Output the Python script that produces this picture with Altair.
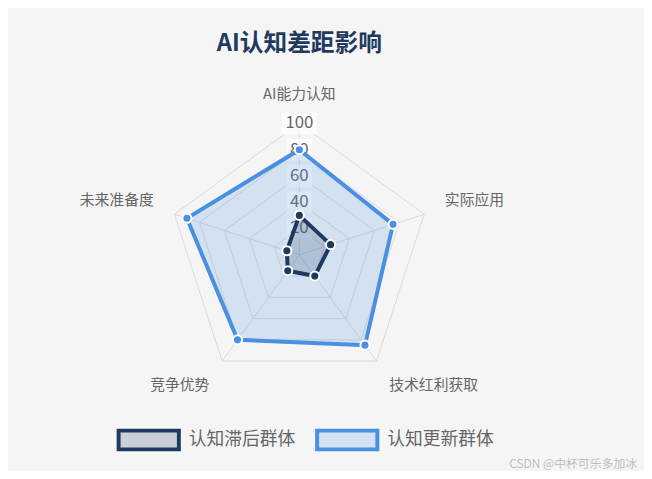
import altair as alt
import pandas as pd

# Radar data
categories = ["AI能力认知", "实际应用", "技术红利获取", "竞争优势", "未来准备度"]
series_names = ["认知滞后群体", "认知更新群体"]
lag_values = [30, 25, 20, 15, 10]
updated_values = [80, 75, 85, 80, 90]
tick_values = [20, 40, 60, 80, 100]
watermark = "CSDN @中杯可乐多加冰"

stroke_colors = ["#1e3a5f", "#4a90e2"]
fill_colors = ["rgba(30,58,95,0.2)", "rgba(74,144,226,0.2)"]

FONT = "Noto Sans CJK SC"
W, H = 590, 401
CX, CY = 295, 185   # radar centre inside the plot area, px
K = 1.33            # px per value unit
LABEL_R = 116.5     # radius of the category labels, value units
N = len(categories)

x_scale = alt.Scale(domain=[-CX / K, (W - CX) / K], nice=False, zero=False)
y_scale = alt.Scale(domain=[-(H - CY) / K, CY / K], nice=False, zero=False)


def X(f):
    return alt.X(f + ":Q", scale=x_scale, axis=None)


def Y(f):
    return alt.Y(f + ":Q", scale=y_scale, axis=None)


def polar(ch, r):
    return ch.transform_calculate(
        ang=f"datum.i * 2 * PI / {N}"
    ).transform_calculate(
        px=f"{r} * sin(datum.ang)", py=f"{r} * cos(datum.ang)", zero="0"
    )


# tables built from the arrays
rows = []
for s, vals in zip(series_names, [lag_values, updated_values]):
    for i in range(N + 1):
        rows.append({"series": s, "i": i, "cat": categories[i % N], "r": vals[i % N]})
series_df = pd.DataFrame(rows)
grid_df = pd.DataFrame([{"t": t, "i": i} for t in tick_values for i in range(N + 1)])
axis_df = pd.DataFrame({"i": list(range(N)), "cat": categories})
tick_df = pd.DataFrame({"t": tick_values})

grid_col = "#d9d9d9"
grid = polar(alt.Chart(grid_df), "datum.t").mark_line(color=grid_col, strokeWidth=1).encode(
    x=X("px"), y=Y("py"), detail="t:N", order="i:Q"
)
spokes = polar(alt.Chart(axis_df), "100").mark_rule(color=grid_col, strokeWidth=1).encode(
    x=X("zero"), y=Y("zero"), x2="px:Q", y2="py:Q"
)

backdrop = alt.Chart(tick_df).transform_calculate(
    hw=f"(length(toString(datum.t)) * 5 + 3) / {K}"
).transform_calculate(
    x1="-datum.hw", x2="datum.hw", y1=f"datum.t - 11 / {K}", y2=f"datum.t + 11 / {K}"
).mark_rect(color="white", opacity=0.75).encode(
    x=X("x1"), x2="x2:Q", y=Y("y1"), y2="y2:Q"
)
tick_text = alt.Chart(tick_df).transform_calculate(zero="0").mark_text(
    font=FONT, fontSize=17, color="#666666", baseline="middle", align="center"
).encode(x=X("zero"), y=Y("t"), text="t:Q")

legend = alt.Legend(
    title=None, orient="none", legendX=110, legendY=340, direction="horizontal",
    symbolType="M-1,-0.311H1V0.311H-1Z", symbolSize=3721, symbolStrokeWidth=4,
    labelFont=FONT, labelFontSize=18, labelColor="#666666",
    labelOffset=8, columnPadding=14, padding=0,
)
stroke_scale = alt.Scale(domain=series_names, range=stroke_colors)
fill_scale = alt.Scale(domain=series_names, range=fill_colors)
point_scale = alt.Scale(domain=series_names, range=stroke_colors)

data_layers = []
for s in [series_names[1], series_names[0]]:
    base = polar(alt.Chart(series_df).transform_filter(alt.datum.series == s), "datum.r")
    poly = base.mark_line(strokeWidth=4).encode(
        x=X("px"), y=Y("py"), order="i:Q",
        stroke=alt.Stroke("series:N", scale=stroke_scale, legend=legend),
        fill=alt.Fill("series:N", scale=fill_scale, legend=legend),
    )
    pts = base.transform_filter(f"datum.i < {N}").mark_circle(
        size=85, stroke="white", strokeWidth=2, opacity=1
    ).encode(
        x=X("px"), y=Y("py"),
        color=alt.Color("series:N", scale=point_scale, legend=None),
    )
    data_layers += [poly, pts]

# category labels, anchored like Chart.js point labels
label_layers = []
for align, baseline, cond in [
    ("center", "bottom", "abs(datum.sx) < 0.1 && datum.cy > 0"),
    ("left", "bottom", "datum.sx >= 0.1 && datum.cy > 0"),
    ("right", "bottom", "datum.sx <= -0.1 && datum.cy > 0"),
    ("left", "top", "datum.sx >= 0.1 && datum.cy <= 0"),
    ("right", "top", "datum.sx <= -0.1 && datum.cy <= 0"),
]:
    lay = polar(alt.Chart(axis_df), str(LABEL_R)).transform_calculate(
        sx="sin(datum.ang)", cy="cos(datum.ang)"
    ).transform_filter(cond).mark_text(
        font=FONT, fontSize=15, color="#666666", align=align, baseline=baseline
    ).encode(x=X("px"), y=Y("py"), text="cat:N")
    label_layers.append(lay)

mark_note = alt.Chart(pd.DataFrame({"txt": [watermark]})).mark_text(
    font=FONT, fontSize=12, color="#bdbdbd", align="right", baseline="middle"
).encode(x=alt.value(637), y=alt.value(397), text="txt:N")

chart = alt.layer(
    grid, spokes, backdrop, tick_text, *data_layers, *label_layers, mark_note
).properties(
    width=W,
    height=H,
    autosize=alt.AutoSizeParams(type="none"),
    padding={"top": 62, "left": 0, "right": 54, "bottom": 0},
    title=alt.TitleParams(
        "AI认知差距影响", font=FONT, fontSize=24, fontWeight="bold",
        color="#1e3a5f", anchor="middle", frame="group", offset=16,
    ),
).configure(
    background="#f5f5f5"
).configure_view(
    stroke=None
)

chart.save("out.html", embed_options={"renderer": "svg", "actions": False})
